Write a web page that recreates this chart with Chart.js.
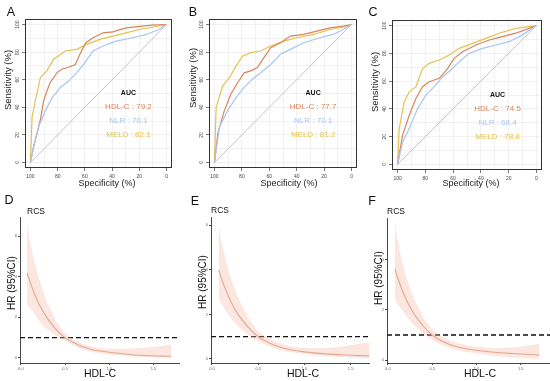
<!DOCTYPE html>
<html>
<head>
<meta charset="utf-8">
<script src="https://cdn.jsdelivr.net/npm/chart.js@4.4.0/dist/chart.umd.min.js"></script>
<style>
body { margin: 0; width: 550px; height: 381px; overflow: hidden; background: #fff; position: relative; font-family: "Liberation Sans", Arial, sans-serif; }
canvas { position: absolute; }
.t { position: absolute; white-space: nowrap; color: #111; line-height: 1; transform: translate(-50%, -50%); }
.rot { transform: translate(-50%, -50%) rotate(-90deg); }
.letter { font-size: 12.5px; }
.rocT { font-size: 9px; color: #222; }
.rcsT { font-size: 10px; color: #111; }
</style>
</head>
<body>
<canvas id="rocA" style="left:0;top:0"></canvas>
<canvas id="rocB" style="left:184px;top:0"></canvas>
<canvas id="rocC" style="left:367px;top:0"></canvas>
<canvas id="rcsD" style="left:0;top:195px"></canvas>
<canvas id="rcsE" style="left:180px;top:195px"></canvas>
<canvas id="rcsF" style="left:370px;top:195px;background:#fff"></canvas>

<div class="t letter" style="left:11px;top:12px">A</div>
<div class="t letter" style="left:193px;top:12px">B</div>
<div class="t letter" style="left:373px;top:12px">C</div>
<div class="t letter" style="left:9px;top:200px">D</div>
<div class="t letter" style="left:195px;top:201px">E</div>
<div class="t letter" style="left:372px;top:201px">F</div>

<div class="t rot rocT" style="left:8px;top:80px;font-size:9.5px">Sensitivity (%)</div>
<div class="t rot rocT" style="left:193px;top:78px;font-size:9.5px">Sensitivity (%)</div>
<div class="t rot rocT" style="left:375px;top:82px;font-size:9.5px">Sensitivity (%)</div>
<div class="t rocT" style="left:107px;top:183px">Specificity (%)</div>
<div class="t rocT" style="left:289px;top:183px">Specificity (%)</div>
<div class="t rocT" style="left:471px;top:183px">Specificity (%)</div>

<div class="t" style="left:36px;top:211px;font-size:8.5px">RCS</div>
<div class="t" style="left:220px;top:210px;font-size:8.5px">RCS</div>
<div class="t" style="left:396px;top:211px;font-size:8.5px">RCS</div>
<div class="t rot rcsT" style="left:12px;top:283px">HR (95%CI)</div>
<div class="t rot rcsT" style="left:203px;top:282px">HR (95%CI)</div>
<div class="t rot rcsT" style="left:379px;top:278px">HR (95%CI)</div>
<div class="t rcsT" style="left:100px;top:373px;font-size:10.5px">HDL-C</div>
<div class="t rcsT" style="left:303px;top:373px;font-size:10.5px">HDL-C</div>
<div class="t rcsT" style="left:480px;top:373px;font-size:10.5px">HDL-C</div>

<script>
// ---- ROC curves: [specificity %, sensitivity %] ----
const rocA_HDL = [[100,0],[97.6,12],[95.2,20.9],[92.5,32],[90.3,44.8],[87.8,52],[85.5,58],[82.5,62],[80.6,65],[77,67.6],[72,69],[67,71],[63.7,78.4],[59.3,86.8],[54,90.4],[46.7,94],[39.5,94.7],[29.8,97.6],[20,98.6],[10.4,99.5],[0,100]];
const rocA_NLR = [[100,0],[97,14],[94,25.7],[89,37.6],[84,47],[78,54.4],[72,59],[66,65],[60,72.4],[54,80.8],[46.7,84.4],[37,88],[25,90.4],[15,92.8],[5.6,96.4],[0,100]];
const rocA_MELD = [[100,0],[98.8,32.9],[96.4,44.8],[92.7,61.6],[87.9,66.4],[83,74.8],[79.4,77.2],[74.6,80.8],[66,82],[58.8,85.6],[49,89.2],[39.5,91.6],[29.8,94],[20,96.4],[10.4,98],[0,100]];

const rocB_HDL = [[100,0],[97.6,20.9],[92.8,37.6],[88,49.6],[83,58],[78.3,65],[73.5,66.4],[68.7,68.8],[63.9,76],[59,83.2],[51.8,86.8],[44.6,91.6],[35,92.8],[25.3,95.2],[15.7,97.6],[6,98.8],[0,100]];
const rocB_NLR = [[100,0],[96.4,25.7],[90.4,37.6],[84.3,47],[78.3,54.4],[72.3,60.4],[66.3,65],[59,71],[51.8,78.4],[44.6,82],[35,86.8],[23,90.4],[13.3,92.8],[6,96.4],[0,100]];
const rocB_MELD = [[100,0],[98.8,40],[94,55.6],[89,61.6],[84.3,70],[79.5,77],[73.5,79.6],[66.3,80.8],[59,84.4],[49.4,88],[39.8,90.4],[27.7,92.8],[15.7,96.4],[6,98],[0,100]];

const rocC_HDL = [[100,0],[96.4,21],[91.6,35.4],[86.8,47.5],[82,56],[77.2,59.5],[70,62],[64,69],[59.2,76.4],[53.2,81.2],[43.6,86],[34,89.6],[24.5,92],[14.9,94.5],[5.3,98],[0,100]];
const rocC_NLR = [[100,0],[96.4,16],[91.6,25.8],[85.6,40],[79.6,50],[73.6,56],[67.6,63],[61.6,68],[55.6,74],[48.4,80],[38.8,83.6],[29.3,86],[19.7,88.4],[10,93.3],[0,100]];
const rocC_MELD = [[100,0],[98.8,25.8],[95.2,45],[91.6,52.3],[86.8,56],[82,69],[77.2,72.8],[70,75.2],[62.8,78.8],[55.6,83.6],[46,87.2],[36.5,90.8],[26.9,94.5],[14.9,98],[0,100]];

const AUC_NAMES = ['HDL-C', 'NLR', 'MELD'];
const aucA = [79.2, 70.1, 82.1];
const aucB = [77.7, 70.1, 81.2];
const aucC = [74.5, 68.4, 78.8];
const ROC_TICKS = [0, 10, 20, 30, 40, 50, 60, 70, 80, 90, 100];

// ---- RCS curves: HDL-C vs HR with 95% CI ----
const xD  = [0.07, 0.1, 0.15, 0.2, 0.25, 0.3, 0.4, 0.5, 0.6, 0.7, 0.8, 0.9, 1.0, 1.2, 1.4, 1.6, 1.7];
const hrD = [4.2, 3.8, 3.2, 2.7, 2.3, 1.95, 1.4, 1.0, 0.75, 0.55, 0.42, 0.34, 0.28, 0.18, 0.12, 0.09, 0.08];
const upD = [6.6, 5.8, 4.8, 4.0, 3.3, 2.7, 1.8, 1.2, 0.9, 0.7, 0.55, 0.48, 0.45, 0.45, 0.5, 0.6, 0.68];
const loD = [2.6, 2.5, 2.2, 1.85, 1.6, 1.4, 1.1, 0.85, 0.6, 0.42, 0.3, 0.22, 0.17, 0.08, 0.03, 0.01, 0.01];

const xE  = [0.075, 0.1, 0.15, 0.2, 0.25, 0.3, 0.4, 0.5, 0.6, 0.7, 0.8, 0.9, 1.0, 1.2, 1.4, 1.6, 1.7];
const hrE = [4.0, 3.65, 3.1, 2.62, 2.22, 1.9, 1.38, 1.0, 0.76, 0.58, 0.46, 0.38, 0.32, 0.24, 0.19, 0.15, 0.14];
const upE = [6.0, 5.3, 4.45, 3.7, 3.1, 2.6, 1.8, 1.25, 0.95, 0.75, 0.62, 0.54, 0.5, 0.48, 0.55, 0.68, 0.75];
const loE = [2.65, 2.5, 2.15, 1.85, 1.6, 1.4, 1.05, 0.8, 0.6, 0.45, 0.35, 0.28, 0.22, 0.13, 0.08, 0.04, 0.03];

const xF  = [0.08, 0.1, 0.15, 0.2, 0.25, 0.3, 0.4, 0.5, 0.6, 0.7, 0.8, 0.9, 1.0, 1.2, 1.4, 1.6, 1.71];
const hrF = [3.64, 3.4, 2.9, 2.48, 2.12, 1.82, 1.35, 1.0, 0.78, 0.62, 0.51, 0.44, 0.39, 0.31, 0.26, 0.22, 0.2];
const upF = [5.5, 5.0, 4.1, 3.4, 2.85, 2.4, 1.7, 1.22, 0.95, 0.78, 0.66, 0.58, 0.53, 0.48, 0.5, 0.58, 0.65];
const loF = [2.4, 2.3, 2.05, 1.8, 1.58, 1.38, 1.05, 0.8, 0.62, 0.48, 0.38, 0.31, 0.26, 0.17, 0.1, 0.06, 0.05];

const RCS_XTICKS = [0, 0.5, 1.0, 1.5];
const HR_REF = 1;

const COL_HDL = '#d9835a', COL_NLR = '#a9c5ee', COL_MELD = '#e2c251';
const AUC_COLORS = [COL_HDL, COL_NLR, COL_MELD];

Chart.defaults.font.family = '"Liberation Sans", Arial, sans-serif';

const toXY = pts => pts.map(p => ({x: p[0], y: p[1]}));
const zip = (xs, ys) => xs.map((x, i) => ({x, y: ys[i]}));

const boxPlugin = {
    id: 'box',
    afterDatasetsDraw(chart) {
        const {ctx, chartArea: a} = chart;
        ctx.save();
        ctx.strokeStyle = '#333';
        ctx.lineWidth = 1;
        ctx.strokeRect(a.left + 0.5, a.top + 0.5, a.right - a.left - 1, a.bottom - a.top - 1);
        ctx.restore();
    }
};

const aucPlugin = {
    id: 'auc',
    afterDatasetsDraw(chart, args, opts) {
        const {ctx, scales: {x, y}} = chart;
        const cx = x.getPixelForValue(28);
        ctx.save();
        ctx.textAlign = 'center';
        ctx.textBaseline = 'middle';
        ctx.font = 'bold 7px "Liberation Sans", Arial';
        ctx.fillStyle = '#111';
        ctx.fillText('AUC', cx, y.getPixelForValue(50));
        ctx.font = '8px "Liberation Sans", Arial';
        opts.values.forEach((v, i) => {
            ctx.fillStyle = AUC_COLORS[i];
            ctx.fillText(AUC_NAMES[i] + ' : ' + v.toFixed(1), cx, y.getPixelForValue(40 - 10 * i));
        });
        ctx.restore();
    }
};

function rocAxis(extra) {
    return Object.assign({
        type: 'linear', min: -4, max: 104,
        afterBuildTicks: s => { s.ticks = ROC_TICKS.map(v => ({value: v})); },
        border: {display: false},
        grid: {
            color: '#eeeeee', lineWidth: 0.8, tickLength: 3,
            tickColor: c => (c.tick && c.tick.value % 20 === 0) ? '#555' : 'rgba(0,0,0,0)'
        },
        ticks: {
            font: {size: 5}, color: '#444', autoSkip: false,
            callback: v => v % 20 === 0 ? v : ''
        }
    }, extra);
}

function rocChart(id, w, h, g, curves, auc) {
    const cv = document.getElementById(id);
    cv.width = w; cv.height = h;
    cv.style.width = w + 'px'; cv.style.height = h + 'px';
    const line = (data, color) => ({data: toXY(data), borderColor: color, borderWidth: 1.2, pointRadius: 0, tension: 0});
    new Chart(cv, {
        type: 'line',
        data: {datasets: [
            {data: [{x: 100, y: 0}, {x: 0, y: 100}], borderColor: '#c4c4c4', borderWidth: 1, pointRadius: 0},
            line(curves[1], COL_NLR),
            line(curves[0], COL_HDL),
            line(curves[2], COL_MELD)
        ]},
        options: {
            responsive: false, animation: false,
            layout: {padding: {top: g.top, right: g.right, left: 0, bottom: 0}},
            plugins: {legend: {display: false}, tooltip: {enabled: false}, auc: {values: auc}},
            scales: {
                x: rocAxis({reverse: true, afterFit: s => { s.height = g.xh; },
                    ticks: {font: {size: 5}, color: '#444', autoSkip: false, maxRotation: 0, padding: 3,
                        callback: v => v % 20 === 0 ? v : ''}}),
                y: rocAxis({afterFit: s => { s.width = g.yw; },
                    ticks: {font: {size: 5}, color: '#444', autoSkip: false, minRotation: 90, maxRotation: 90,
                        crossAlign: 'center', padding: 0, callback: v => v % 20 === 0 ? v : ''}})
            }
        },
        plugins: [boxPlugin, aucPlugin]
    });
}

function rcsChart(id, w, h, g, xs, hr, up, lo, yTicks) {
    const cv = document.getElementById(id);
    cv.width = w; cv.height = h;
    cv.style.width = w + 'px'; cv.style.height = h + 'px';
    const axisCommon = {
        type: 'linear',
        border: {display: true, color: '#333', width: 0.9},
        grid: {display: true, drawOnChartArea: false, drawTicks: true, tickLength: 2, tickColor: '#444'},
    };
    new Chart(cv, {
        type: 'line',
        data: {datasets: [
            {data: zip(xs, up), borderWidth: 0, pointRadius: 0, fill: '+1', backgroundColor: 'rgba(244,178,162,0.33)'},
            {data: zip(xs, lo), borderWidth: 0, pointRadius: 0, fill: false},
            {data: zip(xs, hr), borderColor: '#d9a088', borderWidth: 1.1, pointRadius: 0, tension: 0.3, fill: false},
            {data: [{x: g.xmin, y: HR_REF}, {x: g.xmax, y: HR_REF}], borderColor: '#111', borderWidth: 1.3,
             borderDash: [5, 3], pointRadius: 0, fill: false}
        ]},
        options: {
            responsive: false, animation: false,
            layout: {padding: {top: g.top, right: g.right, left: 0, bottom: 0}},
            plugins: {legend: {display: false}, tooltip: {enabled: false}},
            scales: {
                x: Object.assign({}, axisCommon, {
                    min: g.xmin, max: g.xmax,
                    afterBuildTicks: s => { s.ticks = RCS_XTICKS.map(v => ({value: v})); },
                    afterFit: s => { s.height = g.xh; },
                    ticks: {font: {size: 4}, color: '#666', padding: 1, maxRotation: 0, autoSkip: false,
                        callback: v => v.toFixed(1)}
                }),
                y: Object.assign({}, axisCommon, {
                    min: g.ymin, max: g.ymax,
                    afterBuildTicks: s => { s.ticks = yTicks.map(v => ({value: v})); },
                    afterFit: s => { s.width = g.yw; },
                    ticks: {font: {size: 4}, color: '#666', padding: 1, autoSkip: false}
                })
            }
        }
    });
}

rocChart('rocA', 180, 195, {top: 19, right: 8, xh: 27, yw: 25}, [rocA_HDL, rocA_NLR, rocA_MELD], aucA);
rocChart('rocB', 178, 195, {top: 19, right: 5, xh: 27, yw: 25}, [rocB_HDL, rocB_NLR, rocB_MELD], aucB);
rocChart('rocC', 183, 195, {top: 20, right: 8, xh: 25, yw: 25}, [rocC_HDL, rocC_NLR, rocC_MELD], aucC);

rcsChart('rcsD', 180, 186, {top: 22, right: 0, xh: 18, yw: 20, xmin: -0.01, xmax: 1.8, ymin: -0.25, ymax: 6.95}, xD, hrD, upD, loD, [0, 2, 4, 6]);
rcsChart('rcsE', 215, 186, {top: 22, right: 0, xh: 18, yw: 31, xmin: -0.01, xmax: 1.98, ymin: -0.18, ymax: 6.37}, xE, hrE, upE, loE, [0, 2, 4, 6]);
rcsChart('rcsF', 210, 186, {top: 23, right: 7, xh: 18, yw: 17, xmin: -0.01, xmax: 2.09, ymin: -0.12, ymax: 5.68}, xF, hrF, upF, loF, [0, 2, 4]);
</script>
</body>
</html>
